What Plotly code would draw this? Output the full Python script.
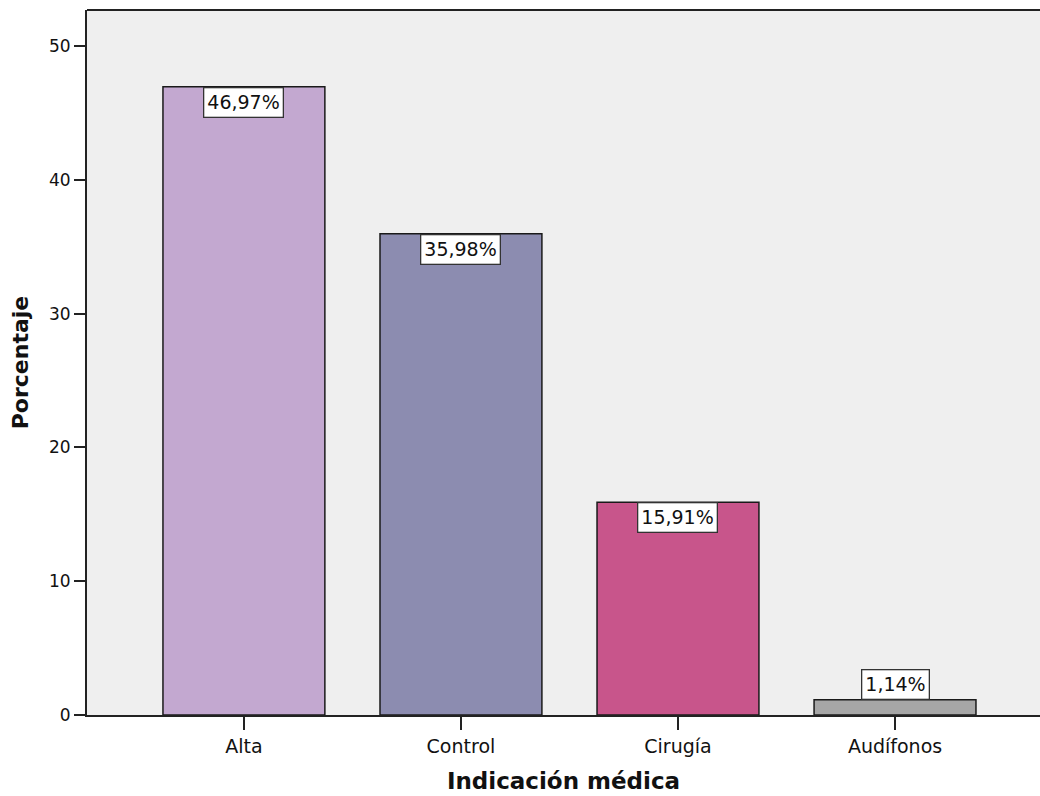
import plotly.graph_objects as go

# Distribution of medical indications (percent of patients)
categories = ["Alta", "Control", "Cirugía", "Audífonos"]
percentages = [46.97, 35.98, 15.91, 1.14]
bar_colors = ["#C3A8D0", "#8C8CB0", "#C8558B", "#A6A6A6"]
y_ticks = [0, 10, 20, 30, 40, 50]

FONT = "DejaVu Sans"
TXT = "#111111"

fig = go.Figure()
fig.add_trace(go.Bar(
    x=list(range(len(categories))),
    y=percentages,
    width=0.746,
    marker=dict(color=bar_colors, line=dict(color="#1a1a1a", width=1.5)),
    hoverinfo="skip",
))

# Value boxes: inside the top of each bar, above it when the bar is too short
annotations = []
for i, v in enumerate(percentages):
    label = f"{v:.2f}".replace(".", ",") + "%"
    inside = v > 5
    annotations.append(dict(
        x=i, y=v, xref="x", yref="y",
        text=label, showarrow=False,
        yanchor="top" if inside else "bottom",
        font=dict(family=FONT, size=19, color=TXT),
        bgcolor="white", bordercolor="#333333", borderwidth=1.3, borderpad=3,
    ))

fig.update_layout(
    width=1040, height=796,
    margin=dict(l=87, r=0, t=10, b=81),
    paper_bgcolor="white",
    plot_bgcolor="#EFEFEF",
    showlegend=False,
    bargap=0.254,
    annotations=annotations,
    xaxis=dict(
        range=[-0.723, 3.668],
        tickmode="array",
        tickvals=list(range(len(categories))),
        ticktext=categories,
        ticks="outside", ticklen=13, tickwidth=1.5, tickcolor="#222222",
        showline=True, linecolor="#222222", linewidth=2,
        showgrid=False, zeroline=False,
        tickfont=dict(family=FONT, size=19, color=TXT),
        title=dict(text="<b>Indicación médica</b>", standoff=17,
                   font=dict(family=FONT, size=23, color=TXT)),
    ),
    yaxis=dict(
        range=[0, 52.7],
        tickmode="array",
        tickvals=y_ticks,
        ticks="outside", ticklen=11, tickwidth=1.5, tickcolor="#222222",
        showline=True, linecolor="#222222", linewidth=2,
        showgrid=False, zeroline=False,
        tickfont=dict(family=FONT, size=17, color=TXT),
        title=dict(text="<b>Porcentaje</b>", standoff=14,
                   font=dict(family=FONT, size=22, color=TXT)),
    ),
)

# Top frame edge of the plot area
fig.add_shape(type="line", xref="paper", yref="paper", x0=0, x1=1, y0=1, y1=1,
              line=dict(color="#222222", width=2))

fig.write_html("out.html")
